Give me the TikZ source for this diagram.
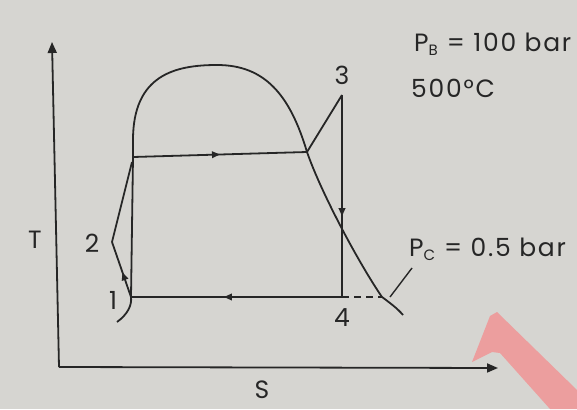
\documentclass[tikz,border=0pt]{standalone}
\usepackage{fontspec}
\setmainfont{Poppins}[LetterSpace=7]
\usetikzlibrary{arrows.meta,decorations.markings}
\definecolor{paper}{RGB}{214,213,209}
\definecolor{ink}{RGB}{38,38,38}
\definecolor{wmred}{RGB}{236,158,158}
\tikzset{
  curve/.style={draw=ink,line width=1.8pt,line join=round},
  axis/.style={draw=ink,line width=1.8pt,-{Triangle[length=11pt,width=9pt]}},
  midarrow/.style={postaction={decorate},decoration={markings,
     mark=at position #1 with {\arrow{Triangle[length=8pt,width=6.5pt]}}}},
  lbl/.style={text=ink,font=\fontsize{25}{28}\selectfont,inner sep=0pt},
}
\newcommand{\subsc}[1]{\textsubscript{\fontsize{15}{15}\selectfont #1}}
\begin{document}
\begin{tikzpicture}[x=1pt,y=-1pt]
\fill[paper] (0,0) rectangle (577,409);
\useasboundingbox (0,0) rectangle (577,409);
% watermark
\fill[wmred] (472,362) -- (490,316) -- (497,312) -- (577,390) -- (577,409) -- (550,409) -- (500,353) -- (492,352) -- (480,358) -- cycle;
% axes
\coordinate (o) at (59,367);
\coordinate (ytop) at (52,42);
\coordinate (xend) at (498,368);
\draw[axis] (o) -- (ytop);
\draw[axis] (o) -- (xend);
% state points
\coordinate (p1) at (131,297);
\coordinate (p2) at (112,242);
\coordinate (f) at (133,157);
\coordinate (g) at (307,152);
\coordinate (p3) at (342,95);
\coordinate (p4) at (342,297);
\coordinate (d) at (382,297);
\coordinate (lead1) at (390,297);
\coordinate (lead2) at (412,268);
% saturation dome
\draw[curve] (117,322) .. controls (128,314) and (132,305) .. (p1) -- (f)
  -- (133,140) .. controls (133,75) and (175,65) .. (217,65)
  .. controls (265,65) and (290,95) .. (g)
  .. controls (322,195) and (360,265) .. (d)
  .. controls (390,303) and (397,308) .. (403,315);
% cycle
\draw[curve,midarrow=0.45] (p1) -- (p2);
\draw[curve] (p2) -- (132,162);
\draw[curve,midarrow=0.5] (f) -- (g);
\draw[curve] (g) -- (p3);
\draw[curve,midarrow=0.6] (p3) -- (p4);
\draw[curve,midarrow=0.56] (p4) -- (p1);
\draw[curve,dashed,dash pattern=on 7pt off 5pt] (p4) -- (d);
\draw[curve,line width=1.4pt] (lead1) -- (lead2);
% labels
\node[lbl] (t3) at (342,75) {3};
\node[lbl] (t2) at (92,243) {2};
\node[lbl] (t1) at (113,300) {1};
\node[lbl] (t4) at (342,318) {4};
\node[lbl] (tT) at (35,240) {T};
\node[lbl] (tS) at (262,390) {S};
\node[lbl,anchor=west] (pb) at (414,44) {P\subsc{B} = 100 bar};
\node[lbl,anchor=west] (temp) at (411,88) {500°C};
\node[lbl,anchor=west] (pc) at (409,249) {P\subsc{C} = 0.5 bar};
\end{tikzpicture}
\end{document}
